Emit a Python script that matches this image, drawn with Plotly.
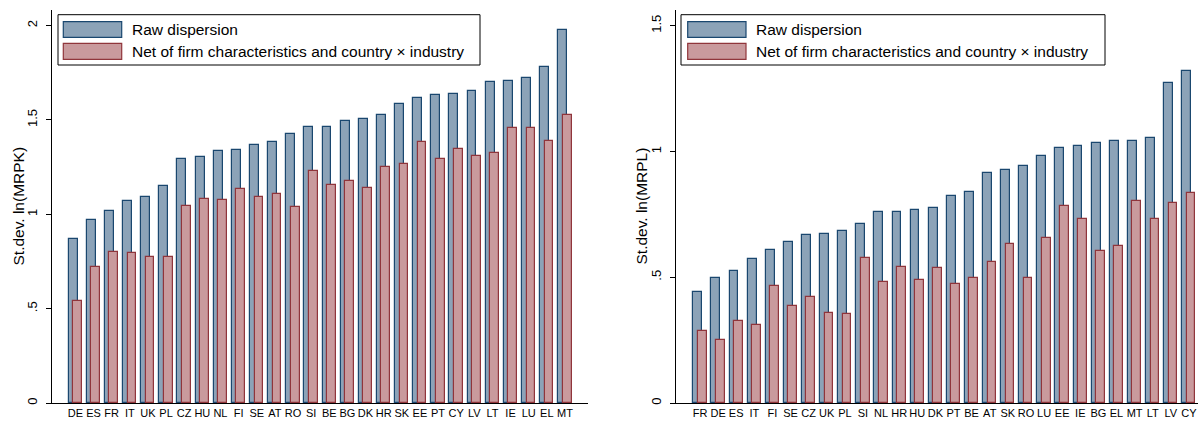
import plotly.graph_objects as go

# ---------------- data ----------------
mrpk_countries = ["DE", "ES", "FR", "IT", "UK", "PL", "CZ", "HU", "NL", "FI", "SE", "AT", "RO", "SI",
                  "BE", "BG", "DK", "HR", "SK", "EE", "PT", "CY", "LV", "LT", "IE", "LU", "EL", "MT"]
mrpk_raw = [0.868, 0.970, 1.019, 1.072, 1.092, 1.150, 1.293, 1.304, 1.336, 1.343, 1.369, 1.385, 1.424, 1.461,
            1.461, 1.497, 1.507, 1.528, 1.587, 1.619, 1.631, 1.640, 1.656, 1.700, 1.705, 1.721, 1.779, 1.979]
mrpk_net = [0.542, 0.723, 0.802, 0.797, 0.776, 0.772, 1.046, 1.081, 1.078, 1.136, 1.094, 1.110, 1.041, 1.231,
            1.154, 1.177, 1.138, 1.249, 1.267, 1.385, 1.295, 1.348, 1.309, 1.327, 1.456, 1.456, 1.387, 1.528]

mrpl_countries = ["FR", "DE", "ES", "IT", "FI", "SE", "CZ", "UK", "PL", "SI", "NL", "HR", "HU", "DK",
                  "PT", "BE", "AT", "SK", "RO", "LU", "EE", "IE", "BG", "EL", "MT", "LT", "LV", "CY"]
mrpl_raw = [0.440, 0.496, 0.525, 0.574, 0.607, 0.640, 0.667, 0.673, 0.684, 0.710, 0.758, 0.758, 0.769, 0.775,
            0.822, 0.840, 0.915, 0.928, 0.941, 0.982, 1.013, 1.022, 1.032, 1.042, 1.042, 1.052, 1.272, 1.320]
mrpl_net = [0.288, 0.250, 0.327, 0.311, 0.467, 0.386, 0.420, 0.359, 0.353, 0.578, 0.482, 0.542, 0.488, 0.538,
            0.474, 0.498, 0.562, 0.633, 0.498, 0.657, 0.782, 0.732, 0.603, 0.623, 0.802, 0.732, 0.796, 0.836]

series_names = ["Raw dispersion", "Net of firm characteristics and country \u00d7 industry"]
left_ticks = [0, 0.5, 1, 1.5, 2]
left_ticktext = ["0", ".5", "1", "1.5", "2"]
right_ticks = [0, 0.5, 1, 1.5]
right_ticktext = ["0", ".5", "1", "1.5"]
left_title = "St.dev. ln(MRPK)"
right_title = "St.dev. ln(MRPL)"

# ---------------- style ----------------
W, H = 1198, 421
FONT = "Liberation Sans, Arial, sans-serif"
BLUE_FILL, BLUE_LINE = "#8CA3B8", "#1A476F"
RED_FILL, RED_LINE = "#C99A9D", "#90353B"
T, B = 10, 18
PH = H - T - B


def px_x(px):
    return px / W


def px_y(py):
    return (H - B - py) / PH


fig = go.Figure()

for cats, raw, net, xa, ya in [(mrpk_countries, mrpk_raw, mrpk_net, "x", "y"),
                               (mrpl_countries, mrpl_raw, mrpl_net, "x2", "y2")]:
    fig.add_trace(go.Bar(x=cats, y=raw, name=series_names[0], xaxis=xa, yaxis=ya,
                         offset=-0.37, width=0.49,
                         marker=dict(color=BLUE_FILL, line=dict(color=BLUE_LINE, width=1.2)),
                         showlegend=False))
    fig.add_trace(go.Bar(x=cats, y=net, name=series_names[1], xaxis=xa, yaxis=ya,
                         offset=-0.12, width=0.48,
                         marker=dict(color=RED_FILL, line=dict(color=RED_LINE, width=1.2)),
                         showlegend=False))

xcommon = dict(type="category", showline=True, linecolor="black", linewidth=1, ticks="",
               showgrid=False, zeroline=False, tickangle=0,
               tickfont=dict(family=FONT, size=11, color="black"), fixedrange=True)
ycommon = dict(showline=True, linecolor="black", linewidth=1, ticks="outside", ticklen=5,
               tickcolor="black", tickwidth=1, showgrid=False, zeroline=False, tickangle=-90,
               tickfont=dict(family=FONT, size=13, color="black"), ticklabelstandoff=4)

fig.update_layout(
    width=W, height=H,
    margin=dict(l=0, r=0, t=T, b=B),
    paper_bgcolor="white", plot_bgcolor="white",
    barmode="overlay", bargap=0,
    font=dict(family=FONT, color="black"),
    xaxis=dict(domain=[52 / W, 588 / W], range=[-1.29, 28.27],
               categoryorder="array", categoryarray=mrpk_countries, anchor="y", **xcommon),
    yaxis=dict(domain=[0, 1], range=[0, 2.083], tickvals=left_ticks, ticktext=left_ticktext,
               anchor="x", **ycommon),
    xaxis2=dict(domain=[676 / W, 1.0], range=[-1.325, 27.5],
                categoryorder="array", categoryarray=mrpl_countries, anchor="y2", **xcommon),
    yaxis2=dict(domain=[0, 1], range=[0, 1.5626], tickvals=right_ticks, ticktext=right_ticktext,
                anchor="x2", **ycommon),
)

shapes = []
annotations = []
for box_l, box_r, sw_l, sw_r, txt_x in [(58, 480, 63.3, 121.7, 130),
                                          (681, 1105, 687.7, 746, 754)]:
    shapes.append(dict(type="rect", xref="paper", yref="paper",
                       x0=px_x(box_l), x1=px_x(box_r), y0=px_y(65), y1=px_y(14.7),
                       line=dict(color="black", width=1), fillcolor="white", layer="above"))
    for (y0, y1, fill, line, name) in [(21.7, 37.3, BLUE_FILL, BLUE_LINE, series_names[0]),
                                        (43.3, 59.3, RED_FILL, RED_LINE, series_names[1])]:
        shapes.append(dict(type="rect", xref="paper", yref="paper",
                           x0=px_x(sw_l), x1=px_x(sw_r), y0=px_y(y1), y1=px_y(y0),
                           line=dict(color=line, width=1.2), fillcolor=fill, layer="above"))
        annotations.append(dict(text=name, xref="paper", yref="paper", x=px_x(txt_x),
                                y=px_y((y0 + y1) / 2), xanchor="left", yanchor="middle",
                                showarrow=False, font=dict(family=FONT, size=15.5, color="black")))

for title, xpx in [(left_title, 18), (right_title, 641)]:
    annotations.append(dict(text=title, xref="paper", yref="paper", x=px_x(xpx), y=0.5,
                            xanchor="center", yanchor="middle", textangle=-90, showarrow=False,
                            font=dict(family=FONT, size=15.5, color="black")))

fig.update_layout(shapes=shapes, annotations=annotations)

fig.write_html("out.html", config={"displayModeBar": False},
               post_script="document.body.style.margin='0';document.body.style.overflow='hidden';")
